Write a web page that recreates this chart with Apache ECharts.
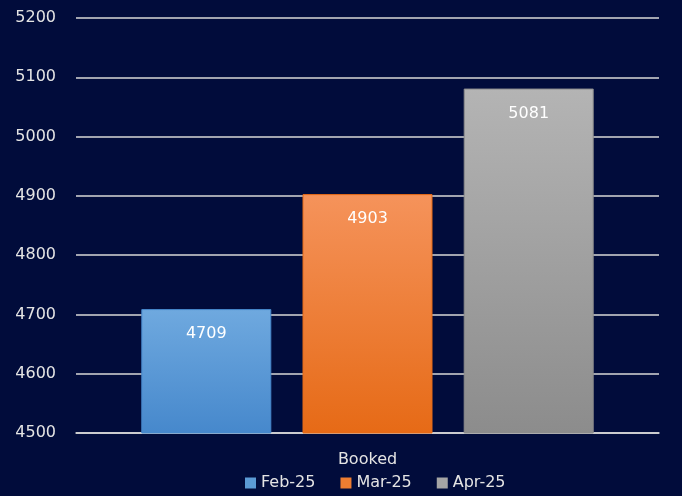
<!DOCTYPE html>
<html>
<head>
<meta charset="utf-8">
<script src="https://cdn.jsdelivr.net/npm/echarts@6/dist/echarts.min.js"></script>
<style>
  html, body { margin: 0; padding: 0; background: #010c3b; }
  #chart { width: 682px; height: 496px; }
</style>
</head>
<body>
<div id="chart"></div>
<script>
// Monthly booked totals
const categories = ['Booked'];
const seriesNames = ['Feb-25', 'Mar-25', 'Apr-25'];
const feb25 = [4709];
const mar25 = [4903];
const apr25 = [5081];
const yTicks = { min: 4500, max: 5200, interval: 100 };

const values = [feb25, mar25, apr25];
const gradients = [
  ['#6fa9df', '#4688cc'],
  ['#f5935b', '#e66a16'],
  ['#b4b4b4', '#8c8c8c']
];
const legendColors = ['#5b9bd5', '#ed7d31', '#a5a5a5'];
const fontFamily = '"DejaVu Sans", sans-serif';
const textColor = '#e4e4e4';

const chart = echarts.init(document.getElementById('chart'));
chart.setOption({
  backgroundColor: '#010c3b',
  animation: false,
  textStyle: { fontFamily: fontFamily },
  grid: { left: 76, right: 23, top: 18, bottom: 63 },
  legend: {
    left: 240,
    bottom: 0,
    itemWidth: 11,
    itemHeight: 11,
    itemGap: 25,
    icon: 'rect',
    textStyle: { color: textColor, fontSize: 16, fontFamily: fontFamily },
    data: seriesNames.map((n, i) => ({
      name: n,
      itemStyle: { color: legendColors[i], borderWidth: 0 }
    }))
  },
  xAxis: {
    type: 'category',
    data: categories,
    axisLine: { lineStyle: { color: '#d9d9d9', width: 1.5 } },
    axisTick: { show: false },
    axisLabel: { color: textColor, fontSize: 16, margin: 19, fontFamily: fontFamily }
  },
  yAxis: {
    type: 'value',
    min: yTicks.min,
    max: yTicks.max,
    interval: yTicks.interval,
    axisLine: { show: false },
    axisTick: { show: false },
    axisLabel: {
      color: textColor,
      fontSize: 16,
      margin: 20,
      fontFamily: fontFamily,
      formatter: (v) => String(v)
    },
    splitLine: { lineStyle: { color: '#d9d9d9', width: 1.5 } }
  },
  series: seriesNames.map((name, i) => ({
    name: name,
    type: 'bar',
    data: values[i],
    barWidth: 130,
    barGap: '24%',
    itemStyle: {
      color: new echarts.graphic.LinearGradient(0, 0, 0, 1, [
        { offset: 0, color: gradients[i][0] },
        { offset: 1, color: gradients[i][1] }
      ]),
      borderColor: gradients[i][1],
      borderWidth: 1
    },
    label: {
      show: true,
      position: 'insideTop',
      distance: 17,
      color: '#ffffff',
      fontSize: 16,
      fontFamily: fontFamily
    }
  }))
});
</script>
</body>
</html>
